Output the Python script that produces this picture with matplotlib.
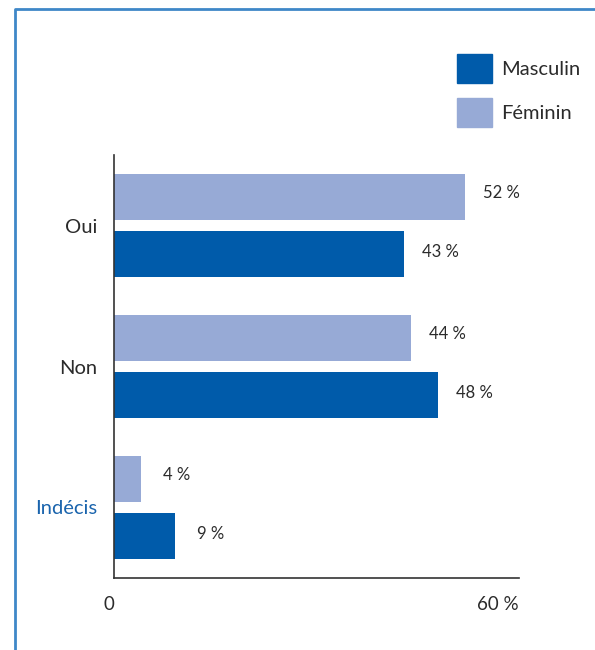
import numpy as np
import matplotlib.pyplot as plt
from matplotlib.lines import Line2D
from matplotlib.patches import Patch

plt.rcParams['font.family'] = ['Lato', 'DejaVu Sans']

# === prepare data ===
categories = ['Oui', 'Non', 'Indécis']
masculin = [43, 48, 9]
feminin = [52, 44, 4]
series_names = ['Masculin', 'Féminin']

dark_blue = '#005baa'
light_blue = '#97aad6'
frame_blue = '#3f87c8'
text_col = '#2b2b2b'

# === plot data ===
fig = plt.figure(figsize=(5.95, 6.5), dpi=100)
ax = fig.add_axes([114 / 595, 72 / 650, 405 / 595, 423 / 650])

y = np.arange(len(categories))
h = 0.326
ax.barh(y - 0.2, feminin, height=h, color=light_blue)
ax.barh(y + 0.2, masculin, height=h, color=dark_blue)

for yi, v in zip(y - 0.2, feminin):
    ax.annotate(f'{v} %', (v, yi), xytext=(26, 3), textcoords='offset points',
                va='center', ha='center', fontsize=12, color=text_col)
for yi, v in zip(y + 0.2, masculin):
    ax.annotate(f'{v} %', (v, yi), xytext=(26, 1), textcoords='offset points',
                va='center', ha='center', fontsize=12, color=text_col)

ax.set_xlim(0, 60)
ax.set_ylim(2.5, -0.5)
ax.set_yticks(y)
ax.set_yticklabels(categories, fontsize=14.5, color=text_col)
ax.get_yticklabels()[2].set_color('#1a64ad')
ax.tick_params(axis='y', length=0, pad=12)
ax.set_xticks([0, 60])
ax.set_xticklabels(['0', '60 %'], fontsize=13.5, color=text_col)
ax.get_xticklabels()[0].set_ha('right')
ax.get_xticklabels()[1].set_ha('right')
ax.tick_params(axis='x', length=0, pad=13)
for s in ['top', 'right']:
    ax.spines[s].set_visible(False)
for s in ['left', 'bottom']:
    ax.spines[s].set_color('#333333')
    ax.spines[s].set_linewidth(1.2)

# legend
handles = [Patch(color=dark_blue), Patch(color=light_blue)]
fig.legend(handles, series_names, loc='upper left',
           bbox_to_anchor=(457 / 595, 1 - 54 / 650), frameon=False,
           fontsize=14.5, handlelength=1.75, handleheight=1.85,
           handletextpad=0.45, labelspacing=0.75, borderpad=0,
           borderaxespad=0, labelcolor=text_col)

# outer frame (left + top)
fig.add_artist(Line2D([15 / 595, 15 / 595, 1], [0, 1 - 9 / 650, 1 - 9 / 650],
                      transform=fig.transFigure, color=frame_blue, lw=2))

plt.savefig('out.png', dpi=100)
